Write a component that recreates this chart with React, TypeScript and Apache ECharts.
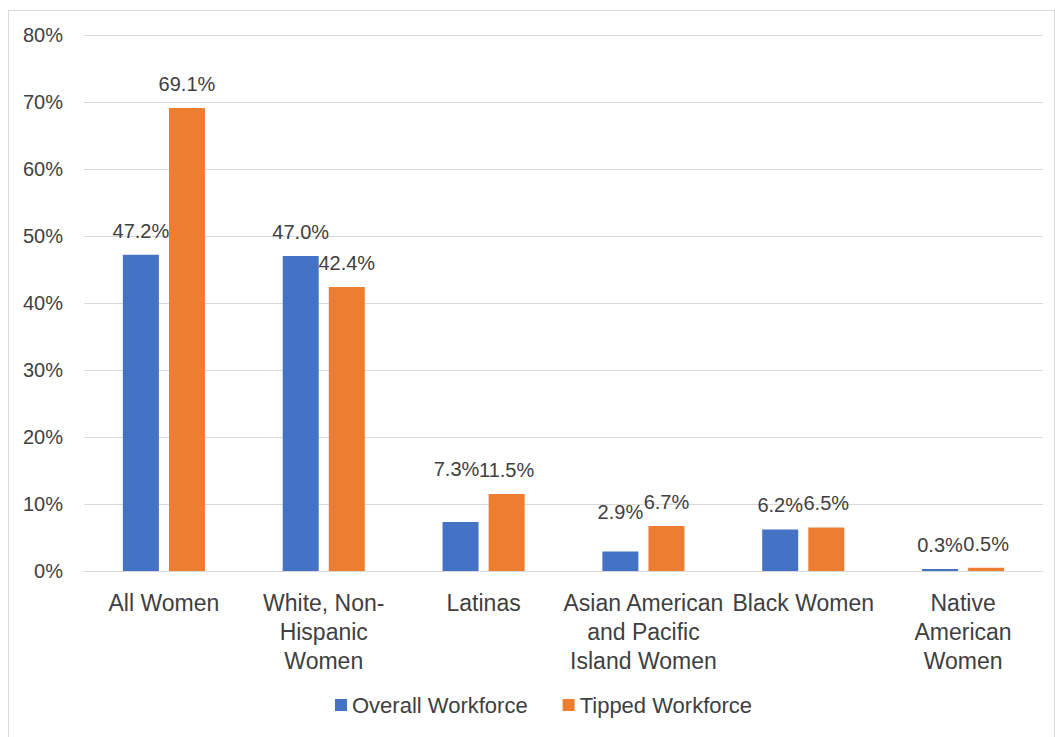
import React, { useEffect, useRef } from "react";
import * as echarts from "echarts";

const categories = [
  "All Women",
  "White, Non-\nHispanic\nWomen",
  "Latinas",
  "Asian American\nand Pacific\nIsland Women",
  "Black Women",
  "Native\nAmerican\nWomen",
];
const overallWorkforce = [47.2, 47.0, 7.3, 2.9, 6.2, 0.3];
const tippedWorkforce = [69.1, 42.4, 11.5, 6.7, 6.5, 0.5];
const seriesNames = ["Overall Workforce", "Tipped Workforce"];
const yTicks = [0, 10, 20, 30, 40, 50, 60, 70, 80];

// label placement tweaks (px) mimicking the reference's label layout
const overallLabelLift = [0, 0, 29, 16, 0, 0];
const overallLabelShiftX = [0, 0, -4, 0, 0, 0];

const FONT = "'Liberation Sans', Arial, sans-serif";
const TEXT = "#404040";

export default function App() {
  const ref = useRef<HTMLDivElement>(null);
  useEffect(() => {
    document.body.style.margin = "0";
    document.body.style.overflow = "hidden";
    if (!ref.current) return;
    const chart = echarts.init(ref.current, null, { renderer: "svg" });
    const labelBase = {
      show: true,
      position: "top",
      distance: 14,
      color: TEXT,
      fontFamily: FONT,
      fontSize: 20,
      formatter: (p: any) => `${Number(p.value).toFixed(1)}%`,
    };
    chart.setOption({
      animation: false,
      backgroundColor: "#ffffff",
      textStyle: { fontFamily: FONT },
      grid: { left: 75, right: 11, top: 24, bottom: 178, containLabel: false },
      legend: {
        bottom: 28,
        left: 321,
        itemWidth: 12,
        itemHeight: 12,
        itemGap: 35,
        icon: "rect",
        textStyle: { color: TEXT, fontSize: 22, fontFamily: FONT },
        data: seriesNames,
      },
      xAxis: {
        type: "category",
        data: categories,
        axisLine: { lineStyle: { color: "#d9d9d9" } },
        axisTick: { show: false },
        axisLabel: {
          interval: 0,
          color: TEXT,
          fontSize: 23,
          fontFamily: FONT,
          lineHeight: 29,
          margin: 17,
        },
      },
      yAxis: {
        type: "value",
        min: yTicks[0],
        max: yTicks[yTicks.length - 1],
        interval: 10,
        axisLine: { show: false },
        axisTick: { show: false },
        splitLine: { lineStyle: { color: "#d9d9d9", width: 1 } },
        axisLabel: {
          color: TEXT,
          fontSize: 20,
          fontFamily: FONT,
          margin: 21,
          formatter: (v: number) => `${v}%`,
        },
      },
      series: [
        {
          name: seriesNames[0],
          type: "bar",
          barWidth: 36,
          barGap: "28%",
          itemStyle: { color: "#4472C4" },
          label: labelBase,
          data: overallWorkforce.map((v, i) => ({
            value: v,
            label: {
              distance: 14 + overallLabelLift[i],
              offset: [overallLabelShiftX[i], 0],
            },
          })),
        },
        {
          name: seriesNames[1],
          type: "bar",
          barWidth: 36,
          barGap: "28%",
          itemStyle: { color: "#ED7D31" },
          label: labelBase,
          data: tippedWorkforce,
        },
      ],
    });
    return () => chart.dispose();
  }, []);
  return (
    <div
      ref={ref}
      style={{
        marginLeft: 8,
        marginTop: 10,
        width: 1047,
        height: 740,
        boxSizing: "border-box",
        border: "1px solid #d9d9d9",
      }}
    />
  );
}
